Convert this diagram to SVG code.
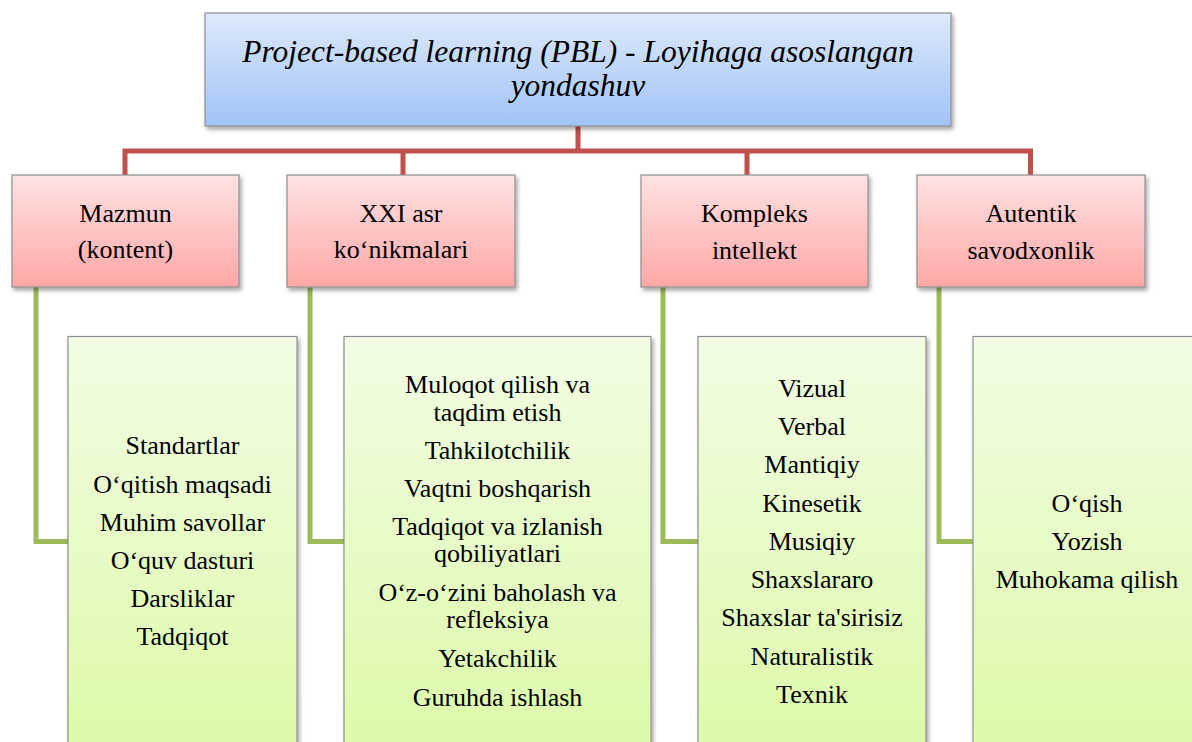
<svg xmlns="http://www.w3.org/2000/svg" width="1192" height="742" viewBox="0 0 1192 742">
<defs>
<linearGradient id="gBlue" x1="0" y1="0" x2="0" y2="1"><stop offset="0" stop-color="#dde9fc"/><stop offset="1" stop-color="#a1c3f7"/></linearGradient>
<linearGradient id="gPink" x1="0" y1="0" x2="0" y2="1"><stop offset="0" stop-color="#ffe2e2"/><stop offset="1" stop-color="#ffa7a7"/></linearGradient>
<linearGradient id="gGreen" x1="0" y1="0" x2="0" y2="1"><stop offset="0" stop-color="#f2fde4"/><stop offset="1" stop-color="#dcfaa8"/></linearGradient>
<filter id="sh" x="-10%" y="-10%" width="120%" height="130%"><feDropShadow dx="2" dy="3" stdDeviation="2" flood-color="#000" flood-opacity="0.35"/></filter>
</defs>
<style>
.box{stroke:#8f8f8f;stroke-width:1.2;filter:url(#sh)}
.top{fill:url(#gBlue)}
.pink{fill:url(#gPink)}
.green{fill:url(#gGreen)}
text{font-family:'Liberation Serif','Times New Roman','DejaVu Serif','Noto Serif',serif}
.t{font-size:31.5px;font-style:italic}
.l{font-size:26px}
.red{fill:none;stroke:#c0504d;stroke-width:5}
.grn{fill:none;stroke:#9bbb59;stroke-width:5}
</style>
<rect width="1192" height="742" fill="#fff"/>
<g id="connectors">
<path class="red" d="M578 126V151M125 175V151H1030.5V175M403 151V175M747 151V175"/>
<path class="grn" d="M36 287V541.5H70M310 287V541.5H346M663 287V541.5H700M939 287V541.5H975"/>
</g>
<g text-anchor="middle" fill="#000">
<g id="root">
<rect class="box top" x="205" y="13" width="746" height="113"/>
<text class="t" x="578" y="62">Project-based learning (PBL) - Loyihaga asoslangan</text>
<text class="t" x="578" y="96">yondashuv</text>
</g>
<g id="n1">
<rect class="box pink" x="12" y="175" width="227" height="112"/>
<text class="l" x="125.5" y="222">Mazmun</text>
<text class="l" x="125.5" y="258">(kontent)</text>
</g>
<g id="n2">
<rect class="box pink" x="287" y="175" width="228" height="112"/>
<text class="l" x="401" y="222">XXI asr</text>
<text class="l" x="401" y="258">ko‘nikmalari</text>
</g>
<g id="n3">
<rect class="box pink" x="641" y="175" width="227" height="112"/>
<text class="l" x="754.5" y="222">Kompleks</text>
<text class="l" x="754.5" y="259">intellekt</text>
</g>
<g id="n4">
<rect class="box pink" x="917" y="175" width="228" height="112"/>
<text class="l" x="1031" y="222">Autentik</text>
<text class="l" x="1031" y="259">savodxonlik</text>
</g>
<g id="c1">
<rect class="box green" x="68" y="336.5" width="229" height="420"/>
<text class="l" x="182.5" y="454">Standartlar</text>
<text class="l" x="182.5" y="492.5">O‘qitish maqsadi</text>
<text class="l" x="182.5" y="530.5">Muhim savollar</text>
<text class="l" x="182.5" y="568.5">O‘quv dasturi</text>
<text class="l" x="182.5" y="607">Darsliklar</text>
<text class="l" x="182.5" y="645">Tadqiqot</text>
</g>
<g id="c2">
<rect class="box green" x="344" y="336.5" width="307" height="420"/>
<text class="l" x="497.5" y="393">Muloqot qilish va</text>
<text class="l" x="497.5" y="420.5">taqdim etish</text>
<text class="l" x="497.5" y="458.5">Tahkilotchilik</text>
<text class="l" x="497.5" y="497">Vaqtni boshqarish</text>
<text class="l" x="497.5" y="535">Tadqiqot va izlanish</text>
<text class="l" x="497.5" y="562">qobiliyatlari</text>
<text class="l" x="497.5" y="600.5">O‘z-o‘zini baholash va</text>
<text class="l" x="497.5" y="628">refleksiya</text>
<text class="l" x="497.5" y="667">Yetakchilik</text>
<text class="l" x="497.5" y="705.5">Guruhda ishlash</text>
</g>
<g id="c3">
<rect class="box green" x="698" y="336.5" width="228" height="420"/>
<text class="l" x="812" y="397">Vizual</text>
<text class="l" x="812" y="435">Verbal</text>
<text class="l" x="812" y="473">Mantiqiy</text>
<text class="l" x="812" y="511.5">Kinesetik</text>
<text class="l" x="812" y="550">Musiqiy</text>
<text class="l" x="812" y="588">Shaxslararo</text>
<text class="l" x="812" y="626">Shaxslar ta'sirisiz</text>
<text class="l" x="812" y="664.5">Naturalistik</text>
<text class="l" x="812" y="703">Texnik</text>
</g>
<g id="c4">
<rect class="box green" x="973" y="336.5" width="228" height="420"/>
<text class="l" x="1087" y="511.5">O‘qish</text>
<text class="l" x="1087" y="550">Yozish</text>
<text class="l" x="1087" y="588">Muhokama qilish</text>
</g>
</g>
</svg>
